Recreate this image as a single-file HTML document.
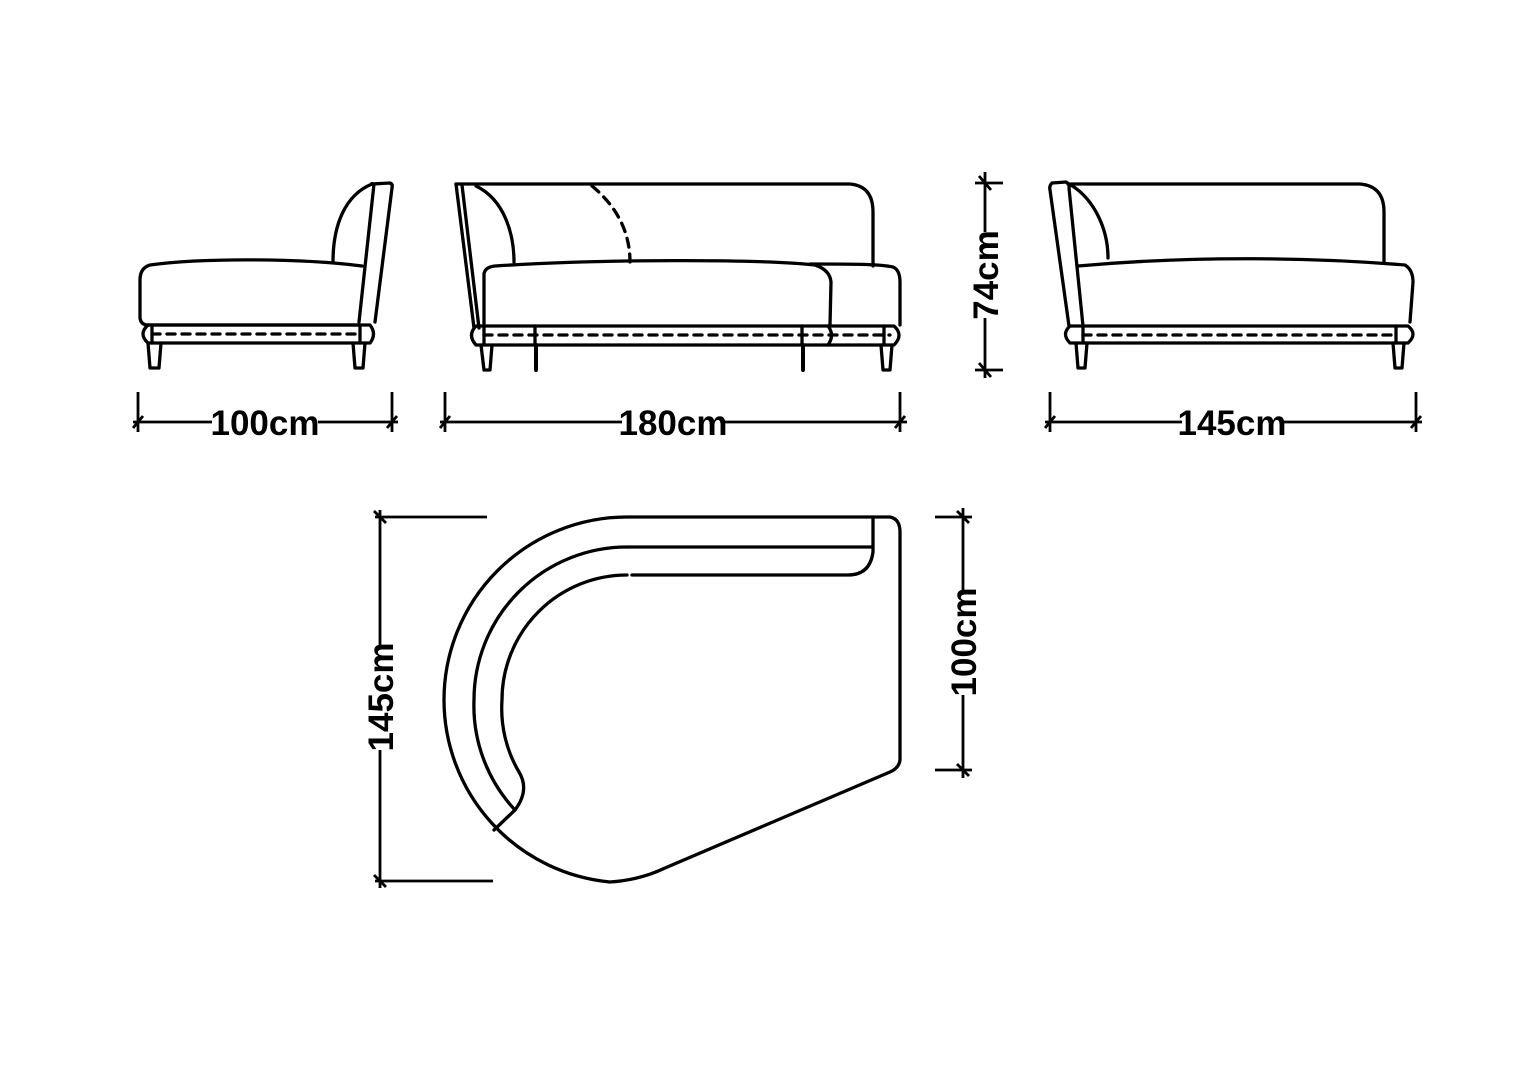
<!DOCTYPE html>
<html><head><meta charset="utf-8"><style>
html,body{margin:0;padding:0;background:#fff}
svg{display:block}
text{font-family:"Liberation Sans",Arial,sans-serif;font-size:35px;font-weight:bold;fill:#000}
</style></head><body>
<svg width="1528" height="1080" viewBox="0 0 1528 1080" xmlns="http://www.w3.org/2000/svg">
<g fill="none" stroke="#000" stroke-width="3.3" stroke-linejoin="round" stroke-linecap="round">
<!-- LEFT SIDE VIEW -->
<path d="M362,266 C300,258 200,258 150,265 Q140,268 140,280 L140,318 Q141,325 148,325"/>
<path d="M372,184 L390,183 Q393,184 392,188 L375,322 M372,184 Q371,183 374,184 L359,322 M360,325 L148,325"/>
<path d="M372,184 C345,195 333,225 333,262"/>
<path d="M148,325 L370,325 Q377,334 370,343 L148,343 Q138,334 148,325 Z"/>
<path d="M152,325 V343 M360,325 V343"/>
<path d="M152,334 H360" stroke-dasharray="8 7"/>
<path d="M148,343 L150,368 H159 L161,343 M353,343 L355,368 H363 L365,343"/>
<!-- MIDDLE FRONT VIEW -->
<path d="M456,184 L850,184 Q873,186 873,212 L873,266"/>
<path d="M456,184 L474,328 M462,185 L479,328"/>
<path d="M476,186 C505,200 514,235 514,262"/>
<path d="M592,186 C615,205 630,230 630,262" stroke-dasharray="9 7"/>
<path d="M484,325 L484,274 Q485,267 495,266 C600,259 760,259 815,265 Q830,270 831,282 L830,325"/>
<path d="M810,264 C850,264 880,264 893,267 Q900,270 900,282 L900,325"/>
<path d="M476,326 L894,326 Q904,335 894,345 L476,345 Q467,335 476,326 Z"/>
<path d="M484,326 V345 M535,326 V345 M802,326 V345 M828,326 Q835,335 828,345 M884,326 V345"/>
<path d="M484,335 H890" stroke-dasharray="8 7"/>
<path d="M481,345 L484,370 H490 L492,345 M881,345 L883,370 H890 L892,345"/>
<path d="M536,345 V370 M803,345 V370" stroke-width="4"/>
<!-- RIGHT SIDE VIEW -->
<path d="M1068,184 L1360,184 Q1384,186 1384,212 L1384,262"/>
<path d="M1052,183 L1066,182 Q1070,184 1069,188 L1083,326 M1052,183 Q1049,186 1050,190 L1069,326"/>
<path d="M1071,185 C1095,200 1108,230 1108,258"/>
<path d="M1078,266 C1200,255 1320,258 1405,265 Q1413,270 1413,282 L1410,322"/>
<path d="M1070,326 L1408,326 Q1418,334 1408,343 L1070,343 Q1061,334 1070,326 Z"/>
<path d="M1083,326 V343 M1396,326 V343"/>
<path d="M1083,335 H1396" stroke-dasharray="8 7"/>
<path d="M1076,343 L1078,368 H1085 L1087,343 M1393,343 L1395,368 H1402 L1404,343"/>
<!-- TOP PLAN -->
<path d="M627,517 L890,517 Q900,519 900,532 L900,760 Q899,768 890,772 L665,868 Q640,880 610,882 A183,183 0 0 1 444,700 A183,183 0 0 1 627,517"/>
<path d="M627,547 L873,547 M873,517 L873,552 Q870,575 848,575 L632,575"/>
<path d="M627,547 A153,153 0 0 0 474,700 A153,153 0 0 0 515,810"/>
<path d="M627,575 A125,125 0 0 0 502,700 A125,125 0 0 0 519,772 Q530,790 515,810 L494,830"/>
</g>
<!-- DIMENSIONS -->
<g stroke="#000" stroke-width="2.8" fill="none">
<path d="M133,422 H212 M318,422 H398 M138,392 V432 M392,392 V432 M133,428 L143,416 M387,428 L397,416"/>
<path d="M440,422 H622 M724,422 H907 M445,392 V432 M900,392 V432 M440,428 L450,416 M895,428 L905,416"/>
<path d="M1045,422 H1182 M1283,422 H1422 M1050,392 V432 M1416,392 V432 M1045,428 L1055,416 M1411,428 L1421,416"/>
<path d="M985,172 V232 M985,318 V378 M975,183 H1003 M975,370 H1003 M979,176 L991,190 M979,363 L991,377"/>
<path d="M380,510 V645 M380,750 V888 M375,517 H487 M375,881 H493 M374,511 L386,523 M374,875 L386,887"/>
<path d="M963,508 V590 M963,695 V778 M935,517 H972 M935,770 H972 M957,511 L969,523 M957,764 L969,776"/>
</g>
<text x="265" y="435" text-anchor="middle">100cm</text>
<text x="673" y="435" text-anchor="middle">180cm</text>
<text x="1232" y="435" text-anchor="middle">145cm</text>
<text transform="translate(998,275) rotate(-90)" text-anchor="middle">74cm</text>
<text transform="translate(393,697) rotate(-90)" text-anchor="middle">145cm</text>
<text transform="translate(976,642) rotate(-90)" text-anchor="middle">100cm</text>
</svg>
</body></html>
